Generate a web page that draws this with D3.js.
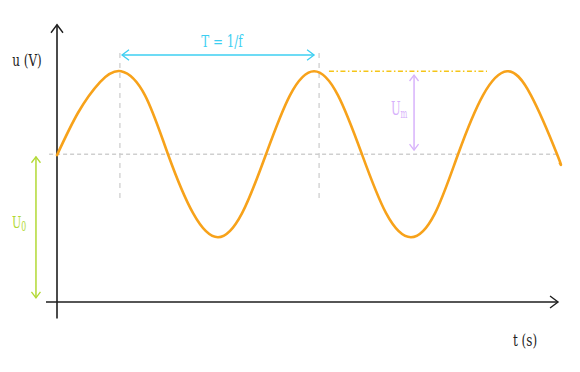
<!DOCTYPE html>
<html>
<head>
<meta charset="utf-8">
<script src="https://cdn.jsdelivr.net/npm/d3@7"></script>
<style>
  html, body { margin: 0; padding: 0; background: #fff; }
</style>
</head>
<body>
<div id="svg-canvas"></div>
<script>
'use strict';

// signal samples (t in periods, u in units of Um)
const tValues = [0, 0.109, 0.223, 0.332, 0.456, 0.575, 0.705,
    0.834, 0.959, 1.083, 1.207, 1.332, 1.456, 1.580, 1.705, 1.834, 1.959, 2.078, 2.207, 2.332,
    2.456, 2.591, 2.606];
const uValues = [1.77, 2.28, 2.65, 2.78, 2.49, 1.78, 1.07,
    0.78, 1.07, 1.78, 2.49, 2.78, 2.49, 1.78, 1.07, 0.78, 1.07, 1.78, 2.49, 2.78,
    2.49, 1.78, 1.67];

const U0 = 1.78;
const Um = 1.0;
const guideT = [0.326, 1.358];
const periodT = [0.337, 1.332];
const umT = 1.85;
const umLineT = [1.409, 2.228];
const u0T = -0.109;

const axisLabels = ["u (V)", "t (s)"];
const annotLabels = ["T = 1/f", "U", "m", "U", "0"];

const width = 580;
const height = 372;
const serif = '"DejaVu Serif", "Liberation Serif", serif';

const x = d3.scaleLinear().domain([0, 1]).range([57, 250]);
const y = d3.scaleLinear().domain([0, 1]).range([302, 219]);

const svg = d3.select("#svg-canvas")
    .append("svg")
    .attr("width", width)
    .attr("height", height)
    .attr("viewBox", `0 0 ${width} ${height}`);

const colors = {
    axis: "#1e1e1e",
    curve: "#f7a21a",
    guide: "#cfcfcf",
    period: "#3dcff2",
    peak: "#f5c518",
    um: "#d7b2fb",
    u0: "#b2d934"
};

function chevron(p, dir, size, color, sw) {
    // open arrow head with tip at p, pointing along dir
    const [dx, dy] = dir;
    const nx = -dy, ny = dx;
    const a = [p[0] - dx * size + nx * size * 0.75, p[1] - dy * size + ny * size * 0.75];
    const b = [p[0] - dx * size - nx * size * 0.75, p[1] - dy * size - ny * size * 0.75];
    svg.append("path")
        .attr("d", d3.line()([a, p, b]))
        .attr("fill", "none")
        .attr("stroke", color)
        .attr("stroke-width", sw);
}

function doubleArrow(p1, p2, color, size) {
    svg.append("path")
        .attr("d", d3.line()([p1, p2]))
        .attr("stroke", color)
        .attr("stroke-width", 1.5);
    const len = Math.hypot(p2[0] - p1[0], p2[1] - p1[1]);
    const dir = [(p2[0] - p1[0]) / len, (p2[1] - p1[1]) / len];
    chevron(p2, dir, size, color, 1.3);
    chevron(p1, [-dir[0], -dir[1]], size, color, 1.3);
}

function label(px, py, size, sx, color, anchor) {
    return svg.append("text")
        .attr("transform", `translate(${px},${py}) scale(${sx},1)`)
        .attr("text-anchor", anchor)
        .attr("font-family", serif)
        .attr("font-size", size)
        .attr("fill", color);
}

// dashed guides
svg.append("path")
    .attr("d", d3.line()([[x(-0.041), y(U0)], [x(2.606), y(U0)]]))
    .attr("stroke", colors.guide)
    .attr("stroke-width", 1.3)
    .attr("stroke-dasharray", "4,3");

guideT.forEach(t => {
    svg.append("path")
        .attr("d", d3.line()([[x(t), y(3.0)], [x(t), y(1.2)]]))
        .attr("stroke", colors.guide)
        .attr("stroke-width", 1.3)
        .attr("stroke-dasharray", "5,5");
});

// peak level
svg.append("path")
    .attr("d", d3.line()([[x(umLineT[0]), y(U0 + Um)], [x(umLineT[1]), y(U0 + Um)]]))
    .attr("stroke", colors.peak)
    .attr("stroke-width", 1.4)
    .attr("stroke-dasharray", "5,2.5,1.5,2.5");

// axes
svg.append("path")
    .attr("d", d3.line()([[x(0), y(-0.2)], [x(0), y(3.34)]]))
    .attr("stroke", colors.axis)
    .attr("stroke-width", 1.6);
chevron([x(0), y(3.34)], [0, -1], 8, colors.axis, 1.4);

svg.append("path")
    .attr("d", d3.line()([[x(-0.057), y(0)], [x(2.596), y(0)]]))
    .attr("stroke", colors.axis)
    .attr("stroke-width", 1.6);
chevron([x(2.596), y(0)], [1, 0], 8, colors.axis, 1.4);

// signal
const points = tValues.map((t, i) => [t, uValues[i]]);
svg.append("path")
    .datum(points)
    .attr("fill", "none")
    .attr("stroke", colors.curve)
    .attr("stroke-width", 2.6)
    .attr("stroke-linecap", "round")
    .attr("d", d3.line().x(d => x(d[0])).y(d => y(d[1])).curve(d3.curveNatural));

// annotation arrows
doubleArrow([x(periodT[0]), y(2.976)], [x(periodT[1]), y(2.976)], colors.period, 7);
doubleArrow([x(umT), y(2.735)], [x(umT), y(1.83)], colors.um, 6);
doubleArrow([x(u0T), y(1.75)], [x(u0T), y(0.05)], colors.u0, 6);

// labels
label(27, 66, 16, 0.75, "#222", "middle").text(axisLabels[0]);
label(525, 346, 16, 0.75, "#222", "middle").text(axisLabels[1]);
label(222, 47, 17, 0.7, colors.period, "middle").text(annotLabels[0]);

const umText = label(391, 115, 19, 0.6, colors.um, "start");
umText.append("tspan").text(annotLabels[1]);
umText.append("tspan").attr("font-size", 12).attr("dy", 3).text(annotLabels[2]);

const u0Text = label(12, 228, 17, 0.65, colors.u0, "start");
u0Text.append("tspan").text(annotLabels[3]);
u0Text.append("tspan").attr("font-size", 12).attr("dy", 3).text(annotLabels[4]);
</script>
</body>
</html>
